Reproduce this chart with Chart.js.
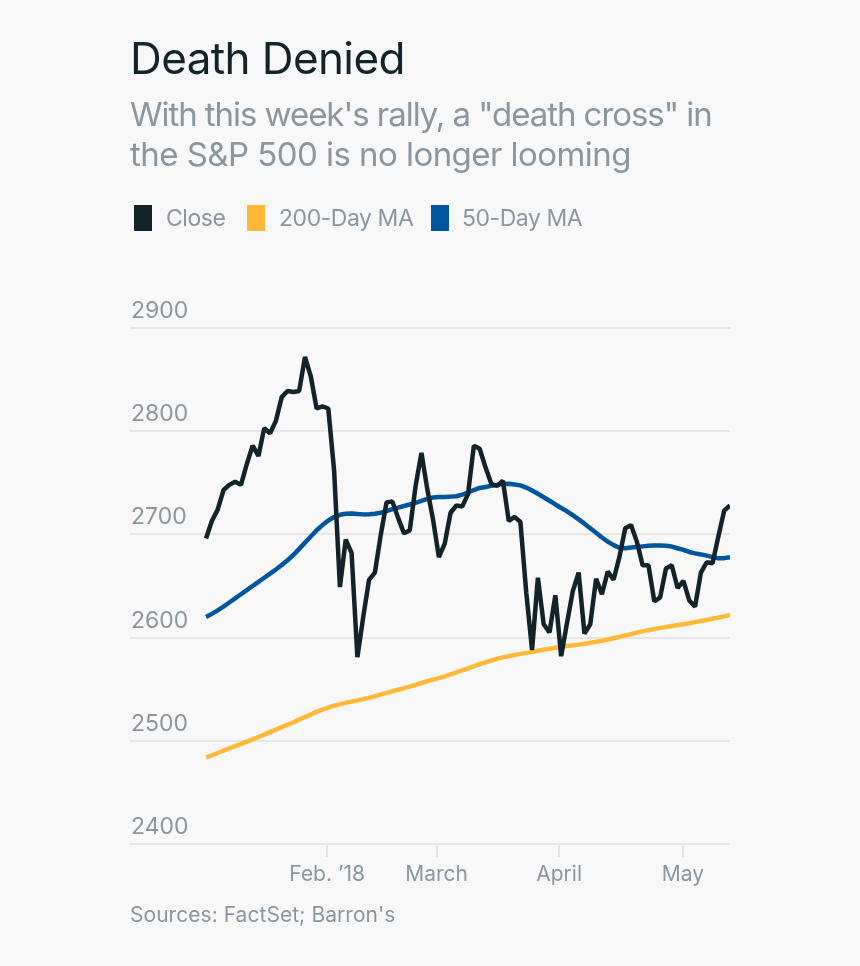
<!DOCTYPE html>
<html>
<head>
<meta charset="utf-8">
<title>Death Denied</title>
<script src="https://cdn.jsdelivr.net/npm/chart.js@4/dist/chart.umd.min.js"></script>
<style>
    html, body { margin: 0; padding: 0; background: #f8f8f8; }
    body { position: relative; width: 860px; height: 966px; overflow: hidden; font-family: Inter, sans-serif; }
    #chart { position: absolute; left: 0; top: 0; }
    .text { position: absolute; white-space: nowrap; }
    #title { left: 130px; top: 32px; font-size: 44px; line-height: 52px; letter-spacing: -0.6px; color: #12242a; }
    #subtitle { left: 130px; top: 94px; font-size: 33px; line-height: 40px; letter-spacing: -1.05px; color: #8a97a1; }
    #subtitle span { letter-spacing: -0.55px; }
    #source { left: 130px; top: 901px; font-size: 21px; line-height: 28px; letter-spacing: 0.04px; color: #8a97a1; }
    .swatch { position: absolute; top: 205px; width: 18px; height: 26px; }
    .legend-label { top: 204px; font-size: 23px; line-height: 28px; letter-spacing: -0.45px; color: #8a97a1; }
</style>
</head>
<body>
<canvas id="chart" width="860" height="966"></canvas>
<div class="text" id="title">Death Denied</div>
<div class="text" id="subtitle">With this week's rally, a "death cross" in<br><span>the S&amp;P 500 is no longer looming</span></div>
<div id="legend"></div>
<div class="text" id="source">Sources: FactSet; Barron's</div>
<script>
"use strict";

// trading days, Jan 2 to May 11 2018
var closeValues = [
    2696, 2713, 2724, 2743, 2748, 2751, 2748, 2768, 2786, 2776,
    2803, 2798, 2810, 2833, 2839, 2838, 2839, 2872, 2853, 2822,
    2824, 2822, 2762, 2649, 2695, 2682, 2581, 2620, 2656, 2663,
    2699, 2731, 2732, 2716, 2701, 2704, 2747, 2779, 2744, 2714,
    2678, 2691, 2721, 2728, 2727, 2739, 2786, 2783, 2765, 2749,
    2747, 2752, 2713, 2717, 2712, 2644, 2588, 2658, 2613, 2605,
    2641, 2582, 2614, 2645, 2663, 2604, 2613, 2657, 2642, 2664,
    2656, 2678, 2706, 2709, 2693, 2670, 2670, 2635, 2639, 2667,
    2670, 2648, 2655, 2636, 2630, 2663, 2673, 2672, 2698, 2723,
    2728
];
var ma200Values = [
    2484, 2486, 2488.2, 2490.4, 2492.6, 2494.8, 2497, 2499.2, 2501.4, 2503.7,
    2506, 2508.4, 2510.8, 2513.2, 2515.6, 2518, 2520.5, 2523, 2525.5, 2528,
    2530.2, 2532.2, 2534, 2535.5, 2536.8, 2538, 2539.2, 2540.4, 2541.8, 2543.2,
    2544.8, 2546.4, 2548, 2549.5, 2551, 2552.5, 2554.2, 2556, 2557.8, 2559.3,
    2560.8, 2562.5, 2564.3, 2566.2, 2568.2, 2570.2, 2572.2, 2574.2, 2576, 2577.8,
    2579.4, 2580.8, 2582, 2583.2, 2584.2, 2585.2, 2586.2, 2587.2, 2588.2, 2589.2,
    2590.2, 2591, 2591.8, 2592.5, 2593.2, 2594, 2595, 2596, 2597, 2598.2,
    2599.4, 2600.6, 2602, 2603.4, 2604.8, 2606, 2607.2, 2608.3, 2609.4, 2610.4,
    2611.3, 2612.2, 2613, 2613.9, 2615, 2616, 2617, 2618.2, 2619.4, 2620.6,
    2622
];
var ma50Values = [
    2620, 2623, 2626.4, 2630, 2634, 2638, 2642, 2646, 2650, 2654,
    2658, 2662, 2666, 2670.4, 2675, 2680, 2686, 2692, 2698, 2704,
    2709, 2713.5, 2716.8, 2719, 2720, 2720.2, 2719.8, 2719.4, 2719.6, 2720,
    2721, 2722.6, 2724.4, 2726, 2727.5, 2729, 2730.6, 2732.4, 2734.4, 2735.8,
    2736.2, 2736.2, 2736.6, 2737, 2738.6, 2740.6, 2743, 2745, 2746, 2747,
    2748, 2748.8, 2749, 2748.4, 2747.5, 2745.4, 2742.6, 2739.4, 2736, 2732.6,
    2729, 2725.6, 2722.4, 2718.6, 2714.6, 2710.4, 2706, 2701.6, 2697, 2693,
    2689.6, 2687, 2686.6, 2687.2, 2687.8, 2688.4, 2689, 2689.2, 2689.2, 2689,
    2688.2, 2686.6, 2685, 2683, 2681.6, 2680.6, 2679.4, 2678, 2676.8, 2677,
    2678
];
var seriesNames = ['Close', '200-Day MA', '50-Day MA'];
var seriesColors = ['#12242a', '#ffb838', '#00569c'];
var seriesValues = [closeValues, ma200Values, ma50Values];
var seriesWidths = [4.5, 4.5, 4.5];
var yTicks = [2400, 2500, 2600, 2700, 2800, 2900];
var monthLabels = ["Feb. \u201918", 'March', 'April', 'May'];
var monthTicks = [20.8, 39.6, 60.65, 81.9];

var legendSwatchLeft = [134, 247, 431];
var legendTextLeft = [166, 279, 462];

var legend = document.getElementById('legend');
seriesNames.forEach(function (name, i) {
    var swatch = document.createElement('div');
    swatch.className = 'swatch';
    swatch.style.left = legendSwatchLeft[i] + 'px';
    swatch.style.background = seriesColors[i];
    legend.appendChild(swatch);
    var label = document.createElement('div');
    label.className = 'text legend-label';
    label.style.left = legendTextLeft[i] + 'px';
    label.textContent = name;
    legend.appendChild(label);
});

var GRID = '#e6e6e6';
var GREY = '#8a97a1';

new Chart(document.getElementById('chart'), {
    type: 'line',
    data: {
        datasets: seriesValues.map(function (values, i) {
            return {
                label: seriesNames[i],
                data: values.map(function (v, day) { return {x: day, y: v}; }),
                borderColor: seriesColors[i],
                borderWidth: seriesWidths[i],
                borderJoinStyle: 'bevel',
                pointRadius: 0,
                tension: 0,
            };
        }),
    },
    options: {
        responsive: false,
        animation: false,
        layout: {padding: {left: 130, right: 130, top: 328, bottom: 0}},
        plugins: {legend: {display: false}, tooltip: {enabled: false}},
        scales: {
            x: {
                type: 'linear',
                min: -13.06,
                max: 90,
                border: {display: false},
                grid: {drawOnChartArea: false, drawTicks: true, tickLength: 13, color: GRID, lineWidth: 2},
                afterBuildTicks: function (scale) {
                    scale.ticks = monthTicks.map(function (v) { return {value: v}; });
                },
                afterFit: function (scale) { scale.height = 122; },
                ticks: {
                    autoSkip: false,
                    maxRotation: 0,
                    padding: 5,
                    color: GREY,
                    font: {family: 'Inter', size: 21},
                    callback: function (value, index) { return monthLabels[index]; },
                },
            },
            y: {
                min: 2400,
                max: 2900,
                border: {display: false},
                grid: {drawTicks: false, color: GRID, lineWidth: 2},
                afterBuildTicks: function (scale) {
                    scale.ticks = yTicks.map(function (v) { return {value: v}; });
                },
                afterFit: function (scale) { scale.width = 0; },
                ticks: {
                    mirror: true,
                    padding: 1,
                    labelOffset: -17,
                    color: GREY,
                    font: {family: 'Inter', size: 23},
                    callback: function (value) { return String(value); },
                },
            },
        },
    },
});
</script>
</body>
</html>
